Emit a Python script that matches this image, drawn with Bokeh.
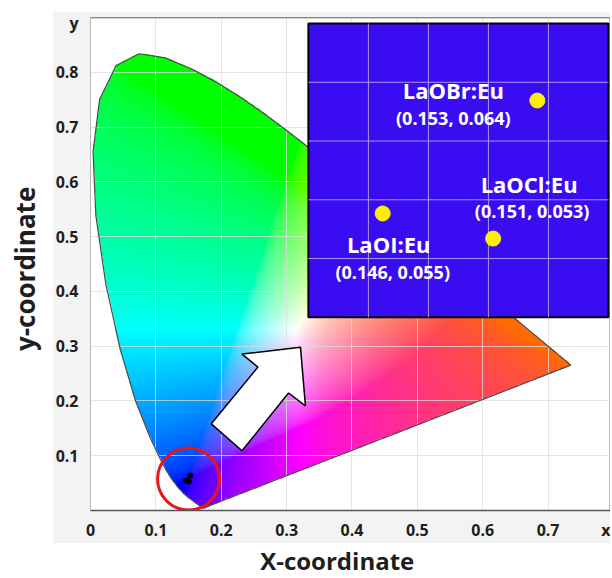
import numpy as np
from math import pi
from bokeh.plotting import figure
from bokeh.models import Range1d, FixedTicker, Span, Label, Spacer
from bokeh.layouts import column, row
from bokeh.embed import file_html
from bokeh.resources import INLINE
from bokeh.core.properties import value

# CIE 1931 spectral locus (380-700 nm)
locus_x = [0.1741, 0.1740, 0.1738, 0.1736, 0.1733, 0.1730, 0.1726, 0.1721, 0.1714, 0.1703,
           0.1689, 0.1669, 0.1644, 0.1611, 0.1566, 0.1510, 0.1440, 0.1355, 0.1241, 0.1096,
           0.0913, 0.0687, 0.0454, 0.0235, 0.0082, 0.0039, 0.0139, 0.0389, 0.0743, 0.1142,
           0.1547, 0.1929, 0.2296, 0.2658, 0.3016, 0.3373, 0.3731, 0.4087, 0.4441, 0.4788,
           0.5125, 0.5448, 0.5752, 0.6029, 0.6270, 0.6482, 0.6658, 0.6801, 0.6915, 0.7006,
           0.7079, 0.7140, 0.7190, 0.7230, 0.7260, 0.7283, 0.7300, 0.7311, 0.7320, 0.7334,
           0.7347]
locus_y = [0.0050, 0.0050, 0.0049, 0.0049, 0.0048, 0.0048, 0.0048, 0.0048, 0.0051, 0.0058,
           0.0069, 0.0086, 0.0109, 0.0138, 0.0177, 0.0227, 0.0297, 0.0399, 0.0578, 0.0868,
           0.1327, 0.2007, 0.2950, 0.4127, 0.5384, 0.6548, 0.7502, 0.8120, 0.8338, 0.8262,
           0.8059, 0.7816, 0.7543, 0.7243, 0.6923, 0.6589, 0.6245, 0.5896, 0.5547, 0.5202,
           0.4866, 0.4544, 0.4242, 0.3965, 0.3725, 0.3514, 0.3340, 0.3197, 0.3083, 0.2993,
           0.2920, 0.2859, 0.2809, 0.2770, 0.2740, 0.2717, 0.2700, 0.2689, 0.2680, 0.2666,
           0.2653]

samples = ["LaOBr:Eu", "LaOCl:Eu", "LaOI:Eu"]
cie_x = [0.153, 0.151, 0.146]
cie_y = [0.064, 0.053, 0.055]

x_ticks = [0.1, 0.2, 0.3, 0.4, 0.5, 0.6, 0.7]
y_ticks = [0.1, 0.2, 0.3, 0.4, 0.5, 0.6, 0.7, 0.8]
x_end_tick = 0.791   # where the "x" letter sits on the x axis
y_end_tick = 0.9     # where the "y" letter sits on the y axis

FONT = "Open Sans"
PANEL = "#f3f3f3"
INK = "#1e1e1e"

# ---------- colour field of the chromaticity diagram ----------
nx, ny = 500, 560
dw, dh = 0.75, 0.85
xc = (np.arange(nx) + 0.5) * dw / nx
yc = (np.arange(ny) + 0.5) * dh / ny
X, Y = np.meshgrid(xc, yc)
px = np.array(locus_x)
py = np.array(locus_y)
inside = np.zeros(X.shape, dtype=bool)
j = len(px) - 1
with np.errstate(divide="ignore", invalid="ignore"):
    for i in range(len(px)):
        xi, yi, xj, yj = px[i], py[i], px[j], py[j]
        den = (yj - yi) if yj != yi else 1e-12
        cond = ((yi > Y) != (yj > Y)) & (X < (xj - xi) * (Y - yi) / den + xi)
        inside ^= cond
        j = i
Z = 1.0 - X - Y
R = 3.2406 * X - 1.5372 * Y - 0.4986 * Z
G = -0.9689 * X + 1.8758 * Y + 0.0415 * Z
B = 0.0557 * X - 0.2040 * Y + 1.0570 * Z
rgb = np.clip(np.stack([R, G, B], axis=-1), 0, None)
mx = rgb.max(axis=-1, keepdims=True)
mx[mx == 0] = 1
rgb = (rgb / mx) ** (1 / 2.0)
# warmer red end (orange) as in the original rendering
rgb[..., 1] = np.maximum(rgb[..., 1], 0.42 * rgb[..., 0] * (1 - rgb[..., 2]))
img = np.zeros((ny, nx), dtype=np.uint32)
view = img.view(dtype=np.uint8).reshape((ny, nx, 4))
view[..., 0] = (rgb[..., 0] * 255).astype(np.uint8)
view[..., 1] = (rgb[..., 1] * 255).astype(np.uint8)
view[..., 2] = (rgb[..., 2] * 255).astype(np.uint8)
view[..., 3] = np.where(inside, 255, 0).astype(np.uint8)

# ---------- main figure ----------
p = figure(width=558, height=532, x_range=Range1d(0, 0.7955), y_range=Range1d(0, 0.9),
           output_backend="svg", toolbar_location=None,
           min_border_left=33, min_border_right=0, min_border_top=6, min_border_bottom=31,
           background_fill_color="white", border_fill_color=PANEL,
           outline_line_color="#b8b8b8", outline_line_width=1)

p.extra_x_ranges = {"ix": Range1d(0.132771, 0.132771 + 525 / 22300)}
p.extra_y_ranges = {"iy": Range1d(0.031333, 0.031333 + 495 / 12600)}

p.image_rgba(image=[img], x=0, y=0, dw=dw, dh=dh, level="image")

p.xaxis.ticker = FixedTicker(ticks=[0.0] + x_ticks + [x_end_tick])
p.xaxis.major_label_overrides = {0.0: "0", x_end_tick: "x"}
p.yaxis.ticker = FixedTicker(ticks=y_ticks + [y_end_tick])
p.yaxis.major_label_overrides = {y_end_tick: "y"}
for ax in (p.xaxis, p.yaxis):
    ax.major_tick_line_color = None
    ax.minor_tick_line_color = None
    ax.major_tick_out = 0
    ax.major_tick_in = 0
    ax.minor_tick_out = 0
    ax.minor_tick_in = 0
    ax.major_label_text_font = FONT
    ax.major_label_text_font_style = "bold"
    ax.major_label_text_font_size = "16px"
    ax.major_label_text_color = INK
p.xaxis.axis_line_color = "#555555"
p.xaxis.axis_line_width = 1.5
p.yaxis.axis_line_color = "#b8b8b8"
p.xaxis.major_label_standoff = 8
p.yaxis.major_label_standoff = 12

p.xgrid.ticker = FixedTicker(ticks=x_ticks)
p.ygrid.ticker = FixedTicker(ticks=y_ticks)
p.grid.grid_line_color = "#dcdcdc"
p.grid.grid_line_alpha = 0.75
p.grid.grid_line_width = 1

p.add_layout(Span(location=0.9, dimension="width", line_color="#555555", line_width=1.5))

# locus outline
p.patch(locus_x, locus_y, fill_alpha=0, line_color="#4a4a4a", line_width=1.2)

# red circle around the measured points, and the points themselves
p.scatter([float(np.mean(cie_x))], [float(np.mean(cie_y))], marker="circle", size=62,
          fill_alpha=0, line_color="#e8151b", line_width=3)
p.scatter(cie_x, cie_y, marker="circle", size=5, color="black")

# block arrow
arrow_x = [0.3212, 0.2318, 0.2561, 0.1848, 0.2318, 0.3030, 0.3288]
arrow_y = [0.2982, 0.2855, 0.2618, 0.1582, 0.1091, 0.2145, 0.1909]
p.patch(arrow_x, arrow_y, fill_color="white", line_color="black", line_width=1.5)

# inset (magnified view)
box_l, box_r, box_b, box_t = 0.3333, 0.7924, 0.3527, 0.889
p.quad(left=[box_l], right=[box_r], bottom=[box_b], top=[box_t],
       fill_color="#3a0cf2", line_color="black", line_width=2)
vx = [box_l + k * (box_r - box_l) / 5 for k in range(1, 5)]
hy = [box_b + k * (box_t - box_b) / 5 for k in range(1, 5)]
p.segment(x0=vx, y0=[box_b] * 4, x1=vx, y1=[box_t] * 4, line_color="#a597f6", line_width=1)
p.segment(x0=[box_l] * 4, y0=hy, x1=[box_r] * 4, y1=hy, line_color="#a597f6", line_width=1)

p.scatter(cie_x, cie_y, x_range_name="ix", y_range_name="iy", marker="circle",
          size=15, color="#ffee00", line_color="#ffee00")

coord_text = [f"({a:.3f}, {b:.3f})" for a, b in zip(cie_x, cie_y)]
name_dx = [-84, 36, 6]
name_dy = [-11, -55, 30]
coord_dx = [-84, 39, 10]
coord_dy = [17, -28, 58]
p.text(x=cie_x, y=cie_y, text=samples, x_range_name="ix", y_range_name="iy",
       x_offset=name_dx, y_offset=name_dy, text_align="center", text_baseline="middle",
       text_font=value(FONT), text_font_style="bold", text_font_size="22px",
       text_color="white")
p.text(x=cie_x, y=cie_y, text=coord_text, x_range_name="ix", y_range_name="iy",
       x_offset=coord_dx, y_offset=coord_dy, text_align="center", text_baseline="middle",
       text_font=value(FONT), text_font_style="bold", text_font_size="18px",
       text_color="white")

# ---------- axis title panels ----------
yl = figure(width=52, height=532, x_range=Range1d(0, 1), y_range=Range1d(0, 1),
            output_backend="svg", toolbar_location=None, x_axis_type=None, y_axis_type=None,
            min_border=0, outline_line_color=None, background_fill_color="white",
            border_fill_color="white")
yl.grid.visible = False
yl.add_layout(Label(x=0.48, y=0.49, text="y-coordinate", angle=pi / 2, text_font=FONT,
                    text_font_style="bold", text_font_size="26px", text_align="center",
                    text_baseline="middle", text_color=INK))

xl = figure(width=610, height=34, x_range=Range1d(0, 1), y_range=Range1d(0, 1),
            output_backend="svg", toolbar_location=None, x_axis_type=None, y_axis_type=None,
            min_border=0, outline_line_color=None, background_fill_color="white",
            border_fill_color="white")
xl.grid.visible = False
xl.add_layout(Label(x=0.552, y=0.5, text="X-coordinate", text_font=FONT,
                    text_font_style="bold", text_font_size="24px", text_align="center",
                    text_baseline="middle", text_color=INK))

layout = column(Spacer(width=610, height=11), row(yl, p), xl)
open("out.html", "w").write(file_html(layout, INLINE))
